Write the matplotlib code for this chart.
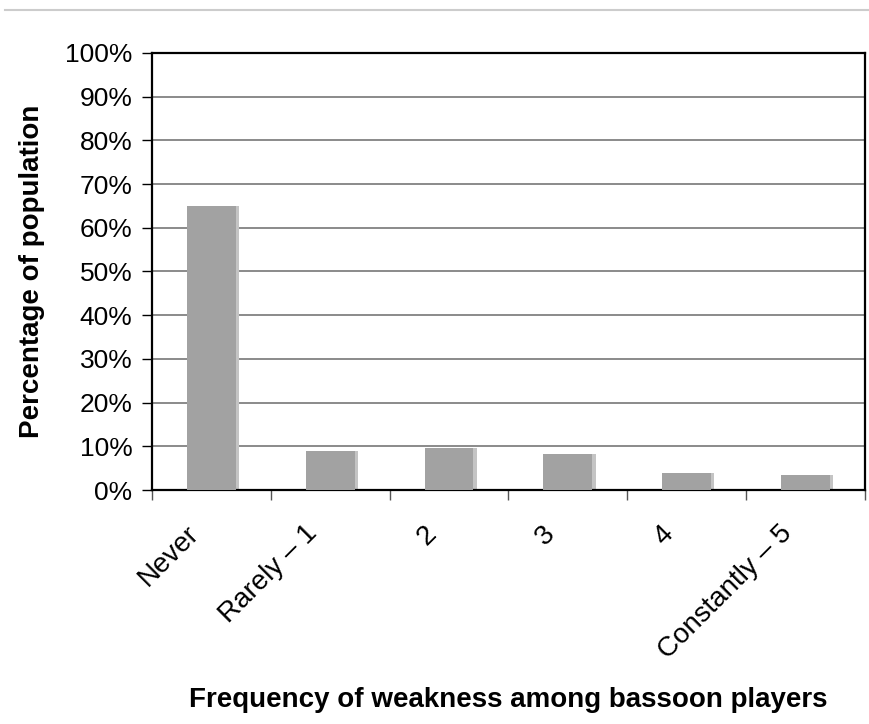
import numpy as np
import matplotlib.pyplot as plt
import matplotlib.transforms as mtransforms
from matplotlib.lines import Line2D
from matplotlib.ticker import PercentFormatter

plt.rcParams['font.family'] = ['Liberation Sans', 'DejaVu Sans']

categories = ['Never', 'Rarely \u2013 1', '2', '3', '4', 'Constantly \u2013 5']
values = [65.0, 8.9, 9.6, 8.3, 4.0, 3.5]

fig = plt.figure(figsize=(8.7, 7.24), dpi=100)
ax = fig.add_axes([0.1747, 0.3232, 0.8193, 0.6036])

x = np.arange(len(categories))
# soft shadow like the scanned excel bars
ax.bar(x + 0.03, values, width=0.41, color='#c4c4c4', zorder=2)
ax.bar(x, values, width=0.41, color='#a2a2a2', zorder=3)

ax.set_xlim(-0.5, len(categories) - 0.5)
ax.set_ylim(0, 100)
ax.set_yticks(np.arange(0, 101, 10))
ax.yaxis.set_major_formatter(PercentFormatter(decimals=0))
ax.yaxis.grid(True, color='#8a8a8a', linewidth=1.4, zorder=1)
ax.set_axisbelow(True)

ax.set_xticks(x)
ax.set_xticklabels(categories, rotation=45, ha='right', rotation_mode='anchor', fontsize=20)
ax.tick_params(axis='x', which='major', length=0, pad=22)
offset = mtransforms.ScaledTranslation(-26 / 100, 0, fig.dpi_scale_trans)
for lab in ax.get_xticklabels():
    lab.set_transform(lab.get_transform() + offset)
ax.set_xticks(np.arange(-0.5, len(categories), 1), minor=True)
ax.tick_params(axis='x', which='minor', length=7, width=1, color='#555555', direction='out')
ax.tick_params(axis='y', length=7, width=1, labelsize=19, direction='out', pad=7)

for s in ax.spines.values():
    s.set_linewidth(1.6)
    s.set_color('black')

ax.set_ylabel('Percentage of population', fontsize=20, fontweight='bold')
ax.yaxis.set_label_coords(-0.15, 0.5)
ax.set_xlabel('Frequency of weakness among bassoon players', fontsize=20, fontweight='bold')
ax.xaxis.set_label_coords(0.5, -0.45)

fig.add_artist(Line2D([0.006, 1.0], [0.986, 0.986], color='#cccccc', linewidth=1.5))

fig.savefig('out.png', dpi=100, facecolor='white')
